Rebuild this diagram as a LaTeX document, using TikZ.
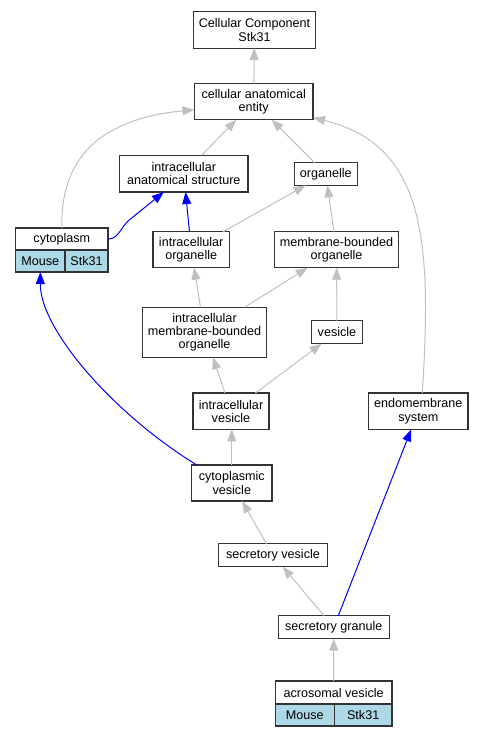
\documentclass[tikz,border=0pt]{standalone}
\usepackage{fontspec}
\setmainfont{Liberation Sans}
\usetikzlibrary{arrows.meta,positioning}
\definecolor{isagray}{HTML}{C0C0C0}
\definecolor{taxblue}{HTML}{ADD8E6}

\begin{document}
\begin{tikzpicture}[x=1pt,y=-1pt,
  term/.style={draw=black!80, line width=1.2pt, fill=white, inner sep=0pt, outer sep=0pt, align=center, font=\fontsize{12.6}{13.3}\selectfont},
  cell/.style={term, fill=taxblue, minimum height=22pt},
  isa/.style={draw=isagray, line width=1pt, -{Triangle[length=12pt,width=9pt]}},
  partof/.style={draw=blue, line width=1pt, -{Triangle[length=12pt,width=9pt]}}]
\useasboundingbox (0,0) rectangle (484,736);
\node[term, minimum width=122.7pt, minimum height=36.3pt] (cc) at (254.5,30) {Cellular Component\\Stk31};
\node[term, minimum width=118.7pt, minimum height=36pt] (cae) at (253.7,101.7) {cellular anatomical\\entity};
\node[term, minimum width=128.3pt, minimum height=36.7pt] (ias) at (183.8,173.7) {intracellular\\anatomical structure};
\node[term, minimum width=63pt, minimum height=22.7pt] (org) at (325.8,174) {organelle};
\node[term, minimum width=92.3pt, minimum height=22pt] (cyto) at (61.85,239) {cytoplasm};
\node[cell, minimum width=49.3pt, anchor=north west] (cytoM) at (cyto.south west) {Mouse};
\node[cell, minimum width=43pt, right=0pt of cytoM] (cytoS) {Stk31};
\node[term, minimum width=76.3pt, minimum height=36pt] (io) at (191.2,249.7) {intracellular\\organelle};
\node[term, minimum width=124.3pt, minimum height=36pt] (mbo) at (336.5,249.7) {membrane-bounded\\organelle};
\node[term, minimum width=124.3pt, minimum height=50pt] (imbo) at (204.5,332.3) {intracellular\\membrane-bounded\\organelle};
\node[term, minimum width=50.7pt, minimum height=23pt] (ves) at (337,332.2) {vesicle};
\node[term, minimum width=76pt, minimum height=36.3pt] (iv) at (231,411.2) {intracellular\\vesicle};
\node[term, minimum width=99.3pt, minimum height=36.3pt] (ems) at (418.3,411.2) {endomembrane\\system};
\node[term, minimum width=80.3pt, minimum height=36pt] (cv) at (231.8,483) {cytoplasmic\\vesicle};
\node[term, minimum width=109.3pt, minimum height=23pt] (sv) at (273,555.2) {secretory vesicle};
\node[term, minimum width=111pt, minimum height=23pt] (sg) at (333.8,627.2) {secretory granule};
\node[term, minimum width=116.7pt, minimum height=23pt] (av) at (333.65,692.5) {acrosomal vesicle};
\node[cell, minimum width=59pt, anchor=north west] (avM) at (av.south west) {Mouse};
\node[cell, minimum width=57.7pt, right=0pt of avM] (avS) {Stk31};

\draw[isa] (cae) -- (cc);
\draw[isa] (cyto.north) .. controls (60,150) and (110,118) .. ([yshift=-8pt]cae.west);
\draw[isa] (ias) -- (cae);
\draw[isa] (org) -- (cae);
\draw[isa] ([xshift=4pt]ems.north) .. controls (432,240) and (425,145) .. ([yshift=2pt]cae.south east);
\draw[partof] (cyto.east) .. controls +(10,0) and +(-8,8) .. (128,221) -- ([xshift=-20pt]ias.south);
\draw[partof] (io) -- (ias);
\draw[isa] (io) -- (org);
\draw[isa] (mbo) -- (org);
\draw[isa] (imbo) -- (io);
\draw[isa] (imbo) -- (mbo);
\draw[isa] (ves) -- (mbo);
\draw[isa] (iv) -- (imbo);
\draw[isa] (iv) -- (ves);
\draw[partof] ([xshift=-35pt]cv.north) .. controls (115,415) and (40,330) .. (cytoM.south);
\draw[isa] (cv) -- (cv |- iv.south);
\draw[isa] (sv) -- (cv);
\draw[isa] (sg) -- (sv);
\draw[partof] (sg) -- (ems);
\draw[isa] (av) -- (sg);
\end{tikzpicture}
\end{document}
